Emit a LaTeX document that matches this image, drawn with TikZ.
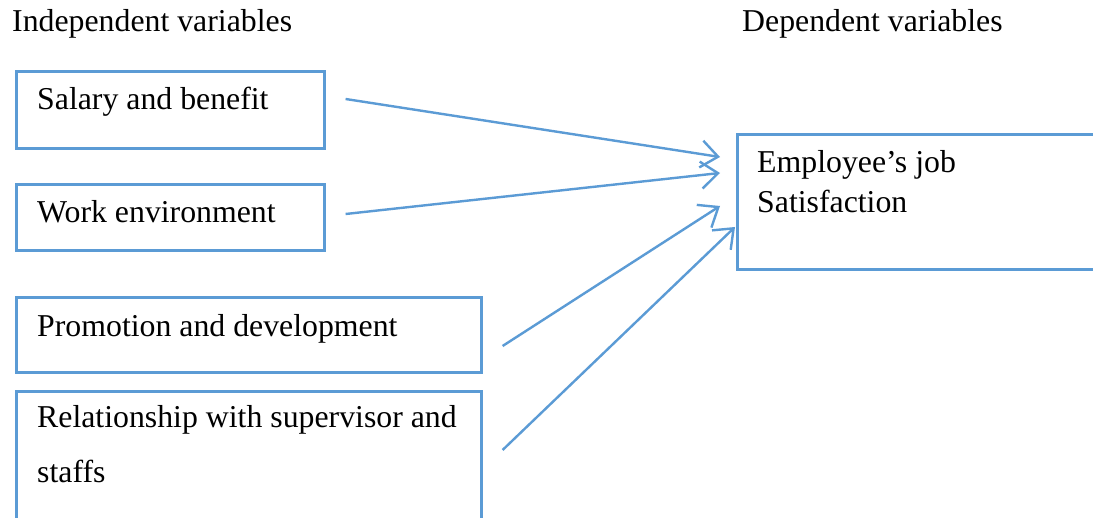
\documentclass[tikz,border=0pt]{standalone}
\usepackage{fontspec}
\setmainfont{Liberation Serif}
\usetikzlibrary{arrows.meta,calc}
\definecolor{lblue}{HTML}{5B9BD5}
\begin{document}
\begin{tikzpicture}[x=1pt,y=-1pt,
  box/.style={draw=lblue, line width=2.6pt, rectangle, anchor=north west, inner sep=0pt},
  lbl/.style={anchor=base west, inner sep=0pt, font=\fontsize{31.8}{40}\selectfont},
  conn/.style={draw=lblue, line width=2.4pt, -{Straight Barb[length=17pt,width=27pt]}}]
\clip (0,0) rectangle (1093,518);
\fill[white] (0,0) rectangle (1093,518);
% boxes
\node[box, minimum width=308pt, minimum height=77pt] (sal) at (15,70) {};
\node[box, minimum width=308pt, minimum height=66pt] (work) at (15,183) {};
\node[box, minimum width=465pt, minimum height=75pt] (prom) at (15,296) {};
\node[box, minimum width=465pt, minimum height=150pt] (rel) at (15,390) {};
\node[box, minimum width=380pt, minimum height=135pt] (emp) at (736,133) {};
% headings
\node[lbl] (ind) at (12,32) {Independent variables};
\node[lbl] (dep) at (742,32) {Dependent variables};
% labels
\node[lbl] (tsal) at (37,110) {Salary and benefit};
\node[lbl] (twork) at (37,223) {Work environment};
\node[lbl] (tprom) at (37,337) {Promotion and development};
\node[lbl] (trel1) at (37,428) {Relationship with supervisor and};
\node[lbl] (trel2) at (37,483) {staffs};
\node[lbl] (temp1) at (757,173) {Employee’s job};
\node[lbl] (temp2) at (757,213) {Satisfaction};
% connector end points
\coordinate (s1) at ($(sal.north east)+(20,29)$);
\coordinate (s2) at ($(work.north east)+(20,31)$);
\coordinate (s3) at ($(prom.north east)+(20,50)$);
\coordinate (s4) at ($(rel.north east)+(20,60)$);
\coordinate (e1) at ($(emp.north west)+(-16,24)$);
\coordinate (e2) at ($(emp.north west)+(-16,40)$);
\coordinate (e3) at ($(emp.north west)+(-16,73)$);
\coordinate (e4) at ($(emp.north west)+(-1,94)$);
\draw[conn] (s1) -- (e1);
\draw[conn] (s2) -- (e2);
\draw[conn] (s3) -- (e3);
\draw[conn] (s4) -- (e4);
\end{tikzpicture}
\end{document}
